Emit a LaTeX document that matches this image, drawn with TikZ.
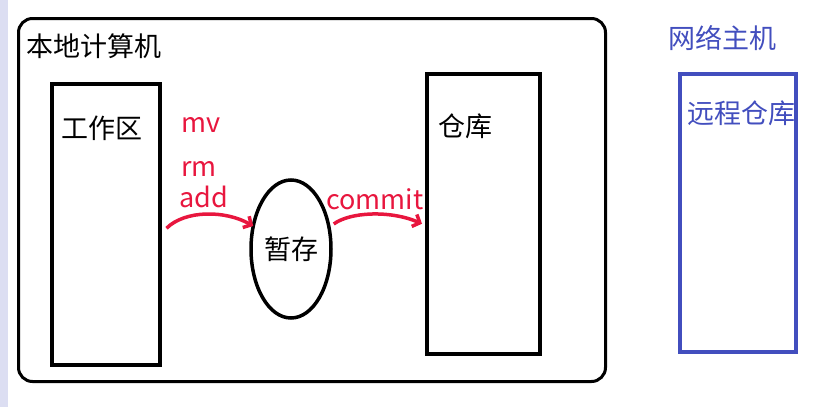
\documentclass[tikz,border=0pt]{standalone}
\usepackage{fontspec}
\setmainfont{Noto Sans CJK SC}
\usetikzlibrary{shapes.geometric,arrows.meta,positioning}
\definecolor{gitred}{RGB}{232,22,62}
\definecolor{netblue}{RGB}{66,78,190}
\definecolor{sidebar}{RGB}{220,222,242}
\begin{document}
\begin{tikzpicture}[x=1pt,y=-1pt,
	box/.style={draw,line width=3.5pt,anchor=north west,inner sep=0pt},
	lbl/.style={font=\fontsize{27}{32}\selectfont,inner sep=0pt},
	cmd/.style={lbl,text=gitred,anchor=base west},
	gitarrow/.style={draw=gitred,line width=3.5pt,-{Straight Barb[length=6pt,width=13pt]}}]
	\useasboundingbox (0,0) rectangle (839,407);
	\fill[sidebar] (0,0) rectangle (8,407);
	% local machine
	\node[box,line width=3pt,rounded corners=14pt,minimum width=587pt,minimum height=363pt] (local) at (17,17) {};
	\node[lbl,anchor=west] (localname) at (26,46) {本地计算机};
	\node[box,minimum width=108pt,minimum height=281pt] (work) at (50,82) {};
	\node[lbl] (workname) at (102,128) {工作区};
	\node[lbl,draw,line width=3.5pt,ellipse,minimum width=80pt,minimum height=138pt] (stage) at (291,249) {暂存};
	\node[box,minimum width=113pt,minimum height=280pt] (repo) at (425,72) {};
	\node[lbl] (reponame) at (465,126) {仓库};
	\node[cmd] (mv) at (181,132) {mv};
	\node[cmd] (rm) at (181,176) {rm};
	\node[cmd] (add) at (179,207) {add};
	\node[cmd] (commit) at (326,209) {commit};
	\draw[gitarrow] ([xshift=5pt,yshift=-4pt]work.east) .. controls (185,210) and (225,210) .. ([xshift=4pt,yshift=23pt]stage.west);
	\draw[gitarrow] ([xshift=1pt,yshift=25pt]stage.east) .. controls (350,212) and (390,210) .. ([xshift=-3pt,yshift=-10pt]repo.west);
	% remote host
	\node[lbl,text=netblue] (hostname) at (722,38) {网络主机};
	\node[box,draw=netblue,minimum width=116pt,minimum height=278pt] (remote) at (678,72) {};
	\node[lbl,text=netblue] (remotename) at (741,113) {远程仓库};
\end{tikzpicture}
\end{document}
